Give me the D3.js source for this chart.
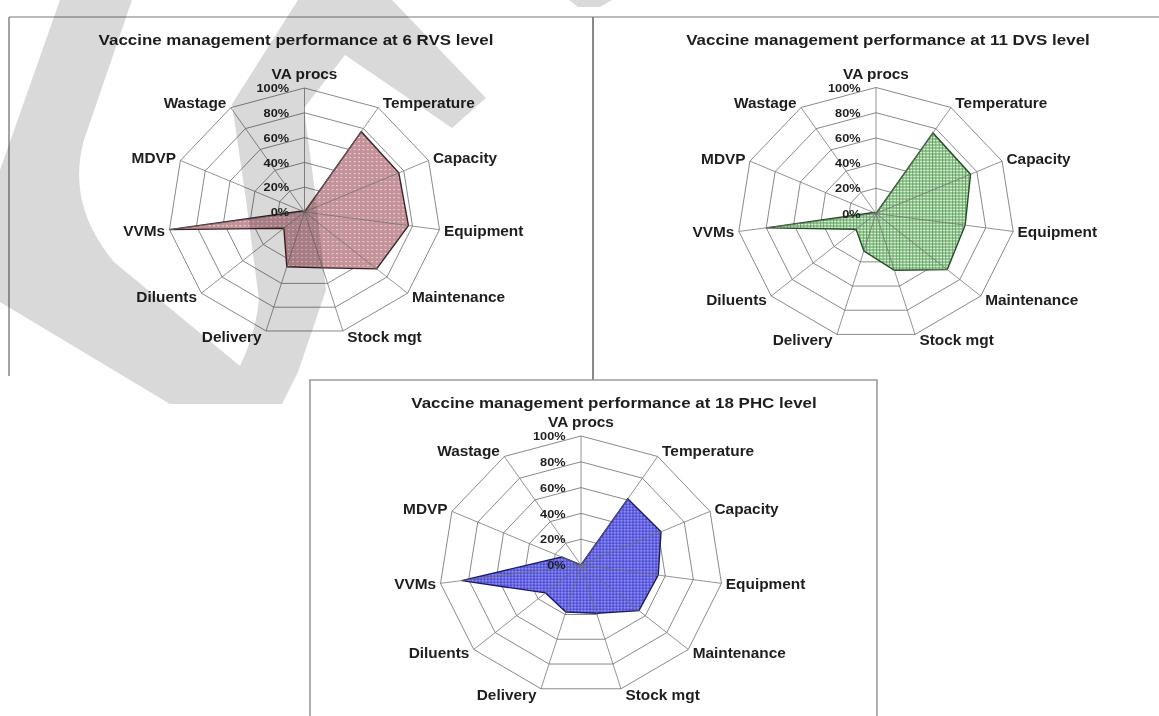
<!DOCTYPE html>
<html>
<head>
<meta charset="utf-8">
<script src="https://cdn.jsdelivr.net/npm/d3@7"></script>
<style>
  html, body { margin: 0; padding: 0; background: #fff; }
  svg { display: block; }
  text { font-family: Arial, "Liberation Sans", sans-serif; font-weight: bold; fill: #1e1e1e; }
</style>
</head>
<body>
<svg id="chart" width="1159" height="716"></svg>
<script>
// Spokes of the radar, clockwise from the top
const axes = ["VA procs", "Temperature", "Capacity", "Equipment", "Maintenance",
              "Stock mgt", "Delivery", "Diluents", "VVMs", "MDVP", "Wastage"];
const tickValues = [0, 20, 40, 60, 80, 100];
const tickLabels = ["0%", "20%", "40%", "60%", "80%", "100%"];

// Scores (%) per spoke for each level
const rvsValues = [0, 77, 76, 77, 70, 47, 46, 20, 100, 2, 0];
const dvsValues = [0, 76, 75, 65, 68, 47, 31, 19, 80, 2, 0];
const phcValues = [0, 61, 62, 55, 54, 39, 38, 33, 85, 15, 0];

const titles = [
  "Vaccine management performance at 6 RVS level",
  "Vaccine management performance at 11 DVS level",
  "Vaccine management performance at 18 PHC level"
];

const svg = d3.select("#chart");
const defs = svg.append("defs");

// Fill patterns for the three areas
const p1 = defs.append("pattern").attr("id", "pinkDots")
  .attr("patternUnits", "userSpaceOnUse").attr("width", 4).attr("height", 4);
p1.append("rect").attr("width", 4).attr("height", 4).attr("fill", "#c49299");
p1.append("rect").attr("x", 1).attr("y", 1).attr("width", 1.2).attr("height", 1.2).attr("fill", "#f4e4e6");

const p2 = defs.append("pattern").attr("id", "greenGrid")
  .attr("patternUnits", "userSpaceOnUse").attr("width", 3).attr("height", 3);
p2.append("rect").attr("width", 3).attr("height", 3).attr("fill", "#d3f3d0");
p2.append("path").attr("d", "M0,0.5H3M0.5,0V3").attr("stroke", "#4f8f4f").attr("stroke-width", 0.75);

const p3 = defs.append("pattern").attr("id", "blueCheck")
  .attr("patternUnits", "userSpaceOnUse").attr("width", 3).attr("height", 3);
p3.append("rect").attr("width", 3).attr("height", 3).attr("fill", "#6565e6");
p3.append("rect").attr("width", 1.5).attr("height", 1.5).attr("fill", "#8c8cf2");
p3.append("rect").attr("x", 1.5).attr("y", 1.5).attr("width", 1.5).attr("height", 1.5).attr("fill", "#4c4cc8");

// Panel frames
const frame = svg.append("g").attr("fill", "none");
frame.append("line").attr("x1", 9).attr("y1", 17).attr("x2", 1159).attr("y2", 17)
  .attr("stroke", "#a6a6a6").attr("stroke-width", 1.6);
frame.append("line").attr("x1", 9).attr("y1", 17).attr("x2", 9).attr("y2", 376)
  .attr("stroke", "#8c8c8c").attr("stroke-width", 1.6);
frame.append("line").attr("x1", 593).attr("y1", 17).attr("x2", 593).attr("y2", 380)
  .attr("stroke", "#7c7c7c").attr("stroke-width", 1.8);
frame.append("path").attr("d", "M310,716V380H877V716")
  .attr("stroke", "#9a9a9a").attr("stroke-width", 1.6);

const panels = [
  { title: titles[0], values: rvsValues, cx: 304.5, cy: 212, R: 124, tx: 296, ty: 45,
    fill: "url(#pinkDots)", line: "#3d2226" },
  { title: titles[1], values: dvsValues, cx: 876, cy: 213.5, R: 126, tx: 888, ty: 45,
    fill: "url(#greenGrid)", line: "#234d23" },
  { title: titles[2], values: phcValues, cx: 581, cy: 565, R: 129, tx: 614, ty: 408,
    fill: "url(#blueCheck)", line: "#1b1b66" }
];

const stretch = 1.1;   // radar is drawn a little wider than tall
const angle = d3.scaleLinear().domain([0, axes.length]).range([0, 2 * Math.PI]);

panels.forEach(p => {
  svg.append("text")
    .attr("x", p.tx).attr("y", p.ty)
    .attr("text-anchor", "middle")
    .attr("font-size", 15.4)
    .attr("transform", `translate(${p.tx},0) scale(${stretch},1) translate(${-p.tx},0)`)
    .text(p.title);

  const r = d3.scaleLinear().domain([0, 100]).range([0, p.R]);
  const g = svg.append("g")
    .attr("transform", `translate(${p.cx},${p.cy}) scale(${stretch},1)`);

  const ring = d3.lineRadial()
    .angle((d, i) => angle(i))
    .radius(d => r(d))
    .curve(d3.curveLinearClosed);

  // concentric grid polygons
  g.selectAll("path.ring")
    .data(tickValues.filter(t => t > 0))
    .join("path")
    .attr("class", "ring")
    .attr("d", t => ring(axes.map(() => t)))
    .attr("fill", "none")
    .attr("stroke", "#8a8a8a")
    .attr("stroke-width", 1)
    .attr("vector-effect", "non-scaling-stroke");

  // filled score area
  g.append("path")
    .attr("d", ring(p.values))
    .attr("fill", p.fill)
    .attr("stroke", p.line)
    .attr("stroke-width", 1.4)
    .attr("stroke-linejoin", "miter")
    .attr("vector-effect", "non-scaling-stroke");

  // spokes
  g.selectAll("line.spoke")
    .data(axes)
    .join("line")
    .attr("class", "spoke")
    .attr("x1", 0).attr("y1", 0)
    .attr("x2", (d, i) => r(100) * Math.sin(angle(i)))
    .attr("y2", (d, i) => -r(100) * Math.cos(angle(i)))
    .attr("stroke", "#707070")
    .attr("stroke-opacity", 0.75)
    .attr("stroke-width", 1)
    .attr("vector-effect", "non-scaling-stroke");

  // percentage labels along the top spoke
  g.selectAll("text.tick")
    .data(tickValues)
    .join("text")
    .attr("class", "tick")
    .attr("x", -14)
    .attr("y", t => -r(t))
    .attr("dy", "0.36em")
    .attr("text-anchor", "end")
    .attr("font-size", 11.6)
    .text((t, i) => tickLabels[i]);

  // spoke names
  g.selectAll("text.axis")
    .data(axes)
    .join("text")
    .attr("class", "axis")
    .attr("font-size", 14)
    .attr("dy", "0.36em")
    .attr("text-anchor", (d, i) => {
      const s = Math.sin(angle(i));
      return Math.abs(s) < 0.05 ? "middle" : (s > 0 ? "start" : "end");
    })
    .attr("x", (d, i) => {
      const s = Math.sin(angle(i));
      return r(100) * s + (Math.abs(s) < 0.05 ? 0 : Math.sign(s) * 4);
    })
    .attr("y", (d, i) => {
      const c = Math.cos(angle(i));
      if (i === 0) return -r(100) - 14;
      return -r(100) * c - c * 6;
    })
    .text(d => d);
});

// Light grey document watermark laid over the upper-left panel
const watermark = svg.append("g")
  .attr("fill", "#d9d9d9")
  .style("mix-blend-mode", "multiply");
watermark.append("path")
  .attr("d",
    "M60,0 L132,0 L84,140 Q66,205 114,262 L240,366 " +
    "Q255,335 259,300 L246,200 L232,104 L298,0 L392,0 L486,98 L452,128 L345,55 " +
    "L304,108 L316,200 L326,290 L298,372 L282,404 L170,404 L0,302 L0,170 Z");
watermark.append("path").attr("d", "M569,0 L612,0 L600,7 L578,7 Z");
</script>
</body>
</html>
